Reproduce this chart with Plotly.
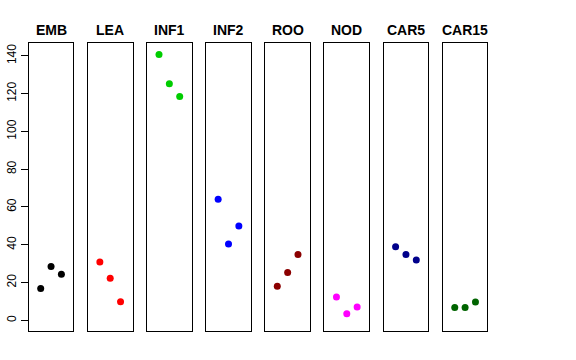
import plotly.graph_objects as go

groups = ["EMB", "LEA", "INF1", "INF2", "ROO", "NOD", "CAR5", "CAR15"]
values = {
    "EMB":   [16.9, 28.5, 24.4],
    "LEA":   [30.9, 22.3, 9.9],
    "INF1":  [140.7, 125.2, 118.5],
    "INF2":  [64.1, 40.4, 49.9],
    "ROO":   [18.1, 25.3, 34.8],
    "NOD":   [12.3, 3.5, 7.0],
    "CAR5":  [39.0, 34.8, 32.0],
    "CAR15": [6.8, 6.8, 9.7],
}
colors = ["#000000", "#FF0000", "#00CD00", "#0000FF", "#8B0000", "#FF00FF", "#00008B", "#006400"]
replicates = [1, 2, 3]
y_ticks = [0, 20, 40, 60, 80, 100, 120, 140]

W, H = 576, 360
left0, pw, step = 28.7, 44.7, 59.15
top_px, bot_px = 43.3, 331.0

fig = go.Figure()
layout = dict(
    width=W, height=H,
    margin=dict(l=0, r=0, t=0, b=0, autoexpand=False),
    paper_bgcolor="white", plot_bgcolor="white",
    showlegend=False,
    font=dict(family="Liberation Sans, Arial, Helvetica, sans-serif", size=12, color="black"),
)
annotations = []
ydom = [(H - bot_px) / H, (H - top_px) / H]
for i, g in enumerate(groups):
    n = "" if i == 0 else str(i + 1)
    xl = left0 + i * step
    fig.add_trace(go.Scatter(
        x=replicates, y=values[g], mode="markers",
        marker=dict(color=colors[i], size=7),
        xaxis="x" + n, yaxis="y" + n, hoverinfo="x+y",
    ))
    layout["xaxis" + n] = dict(
        domain=[xl / W, (xl + pw) / W], range=[-0.16, 4.16],
        showticklabels=False, ticks="", showgrid=False, zeroline=False,
        showline=True, mirror=True, linecolor="black", linewidth=1,
        anchor="y" + n, automargin=False,
    )
    ya = dict(
        domain=ydom, range=[-5.64, 146.64],
        showgrid=False, zeroline=False,
        showline=True, mirror=True, linecolor="black", linewidth=1,
        anchor="x" + n, automargin=False,
    )
    if i == 0:
        ya.update(tickvals=y_ticks, ticks="outside", ticklen=7, tickcolor="black",
                  tickangle=-90, tickfont=dict(size=12))
    else:
        ya.update(showticklabels=False, ticks="")
    layout["yaxis" + n] = ya
    annotations.append(dict(
        text="<b>" + g + "</b>", x=(xl + pw / 2) / W, y=(H - 30) / H,
        xref="paper", yref="paper", showarrow=False,
        xanchor="center", yanchor="middle", font=dict(size=14),
    ))
layout["annotations"] = annotations
fig.update_layout(**layout)
fig.write_html("out.html", config={"displayModeBar": False},
               post_script="document.body.style.margin='0px';document.body.style.padding='0px';")
